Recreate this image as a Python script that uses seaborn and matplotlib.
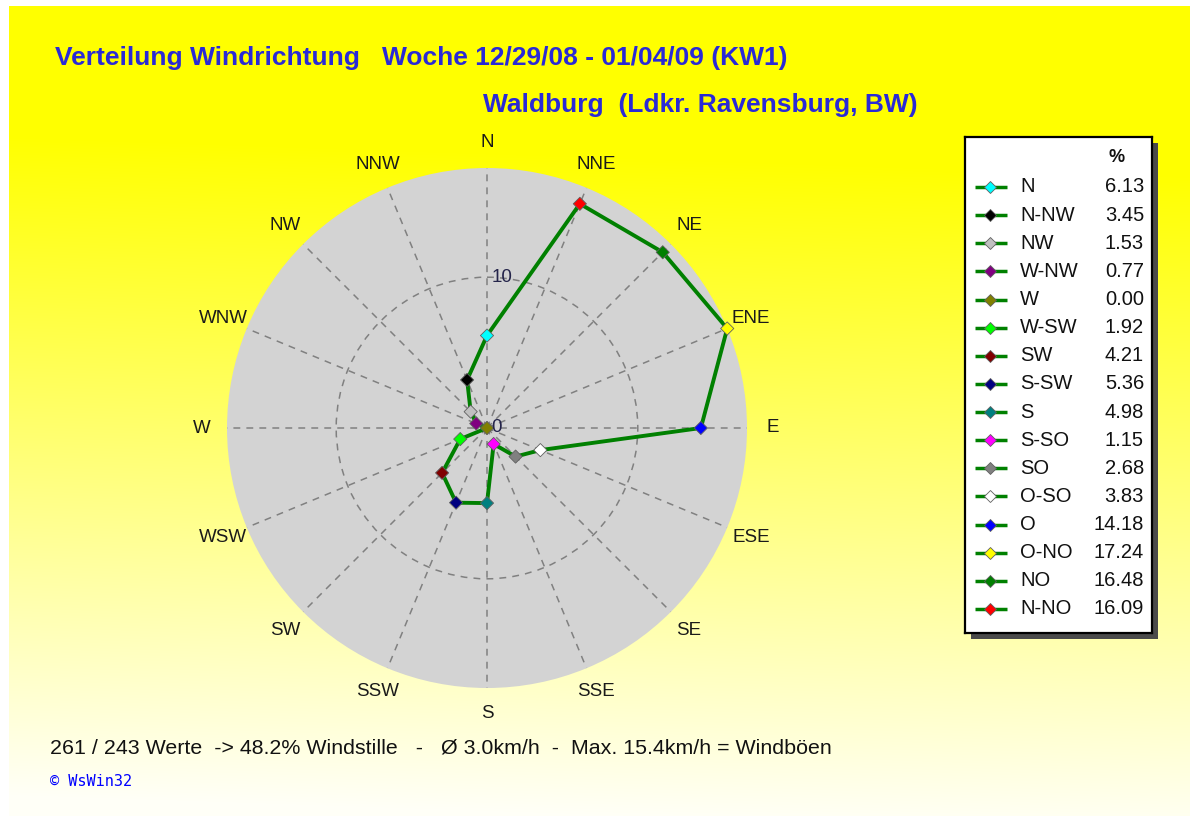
import numpy as np
import pandas as pd
import matplotlib
matplotlib.use("Agg")
import matplotlib.pyplot as plt
import seaborn as sns
from matplotlib.patches import Rectangle

# ---------------- data ----------------
directions = ["N", "N-NW", "NW", "W-NW", "W", "W-SW", "SW", "S-SW",
              "S", "S-SO", "SO", "O-SO", "O", "O-NO", "NO", "N-NO"]
percent = [6.13, 3.45, 1.53, 0.77, 0.00, 1.92, 4.21, 5.36,
           4.98, 1.15, 2.68, 3.83, 14.18, 17.24, 16.48, 16.09]
marker_colors = ["#00ffff", "#000000", "#c0c0c0", "#800080", "#808000", "#00ff00",
                 "#800000", "#000080", "#008080", "#ff00ff", "#808080", "#ffffff",
                 "#0000ff", "#ffff00", "#008000", "#ff0000"]
compass_labels = ["N", "NNE", "NE", "ENE", "E", "ESE", "SE", "SSE",
                  "S", "SSW", "SW", "WSW", "W", "WNW", "NW", "NNW"]
r_ticks = [0, 10]
title_line1 = "Verteilung Windrichtung   Woche 12/29/08 - 01/04/09 (KW1)"
title_line2 = "Waldburg  (Ldkr. Ravensburg, BW)"
footer_text = "261 / 243 Werte  -> 48.2% Windstille   -   \u00d8 3.0km/h  -  Max. 15.4km/h = Windb\u00f6en"
copyright_text = "\u00a9 WsWin32"
legend_header = "%"

LINE_GREEN = "#008000"
TITLE_BLUE = "#2a2ad6"
FONT = ["Liberation Sans", "DejaVu Sans"]

plt.rcParams["font.family"] = FONT

W_PX, H_PX = 1190, 816
fig = plt.figure(figsize=(W_PX / 100, H_PX / 100), dpi=100, facecolor="white")

# ---------------- gradient background ----------------
bg = fig.add_axes([9 / W_PX, 0, 1 - 9 / W_PX, 1 - 6 / H_PX], zorder=-10)
hh, ww = H_PX - 6, W_PX - 9
yy, xx = np.mgrid[0:hh, 0:ww]
ypx = yy + 6
xpx = xx + 9
t = np.clip((ypx - 135 - 40 * xpx / W_PX) / 660.0, 0, 1)
img = np.ones((hh, ww, 3))
img[..., 2] = t * 0.97
bg.imshow(img, aspect="auto", interpolation="bilinear")
bg.set_axis_off()

# ---------------- polar chart ----------------
cx, cy, rad = 487, 428, 260
ax = fig.add_axes([(cx - rad) / W_PX, (H_PX - cy - rad) / H_PX, 2 * rad / W_PX, 2 * rad / H_PX],
                  projection="polar")
ax.set_theta_zero_location("N")
ax.set_theta_direction(-1)
ax.set_facecolor("#d3d3d3")
ax.spines["polar"].set_visible(False)

theta = np.deg2rad((-22.5 * np.arange(len(directions))) % 360)
df = pd.DataFrame({"dir": directions, "theta": theta, "r": percent})

# closed outline: repeat the first point at 2*pi
line_df = pd.concat([df, pd.DataFrame({"dir": [directions[0]], "theta": [2 * np.pi],
                                        "r": [percent[0]]})], ignore_index=True)
sns.lineplot(data=line_df, x="theta", y="r", sort=False, estimator=None,
             color=LINE_GREEN, linewidth=2.8, ax=ax, zorder=3)
sns.scatterplot(data=df, x="theta", y="r", hue="dir",
                palette=dict(zip(directions, marker_colors)),
                marker="D", s=45, edgecolor="#606060", linewidth=0.6,
                legend=False, ax=ax, zorder=4, clip_on=False)

ax.set_ylim(0, max(percent))
ax.set_thetagrids(np.arange(0, 360, 22.5), compass_labels)
ax.set_rticks(r_ticks)
ax.set_yticklabels([])
ax.set_xlabel("")
ax.set_ylabel("")
ax.grid(True, color="#808080", linestyle=(0, (4.5, 4)), linewidth=1.1)
ax.tick_params(axis="x", pad=8, labelsize=13.5, labelcolor="#1a1a1a")
for v in r_ticks:
    ax.annotate(f"{v}", xy=(0, v), xytext=(3, 0), textcoords="offset points",
                ha="left", va="center", fontsize=13.5, color="#24244a", zorder=5)

# ---------------- titles & footer ----------------
fig.text(55 / W_PX, 1 - 58 / H_PX, title_line1, ha="left", va="center",
         fontsize=19, fontweight="bold", color=TITLE_BLUE)
fig.text(483 / W_PX, 1 - 105 / H_PX, title_line2, ha="left", va="center",
         fontsize=19, fontweight="bold", color=TITLE_BLUE)
fig.text(50 / W_PX, 1 - 748 / H_PX, footer_text, ha="left", va="center",
         fontsize=15.4, color="#111111")
fig.text(50 / W_PX, 1 - 782 / H_PX, copyright_text, ha="left", va="center",
         fontsize=11, color="#0000ff", family=["DejaVu Sans Mono", "DejaVu Sans"])

# ---------------- legend box ----------------
lx0, ly0, lw, lh = 965, 137, 187, 496
lbox = [lx0 / W_PX, (H_PX - ly0 - lh) / H_PX, lw / W_PX, lh / H_PX]
shadow = Rectangle((lbox[0] + 6 / W_PX, lbox[1] - 6 / H_PX), lbox[2], lbox[3],
                   transform=fig.transFigure, facecolor="#4a4a4a", edgecolor="none",
                   zorder=-5)
fig.patches.append(shadow)
lax = fig.add_axes(lbox, zorder=2)
lax.set_facecolor("white")
lax.set_xlim(0, lw)
lax.set_ylim(lh, 0)
lax.set_xticks([])
lax.set_yticks([])
for sp in lax.spines.values():
    sp.set_color("black")
    sp.set_linewidth(1.6)

lax.text(152, 20, legend_header, ha="center", va="center", fontsize=13,
         fontweight="bold", color="#111111")
row0, step = 50, (609 - 187) / 15
for i, (name, val, col) in enumerate(zip(directions, percent, marker_colors)):
    y = row0 + step * i
    lax.plot([10, 42], [y, y], color=LINE_GREEN, linewidth=2.5, solid_capstyle="butt")
    lax.plot([25], [y], marker="D", markersize=6.5, markerfacecolor=col,
             markeredgecolor="#606060", markeredgewidth=0.6, linestyle="none")
    lax.text(55, y, name, ha="left", va="center", fontsize=14.5, color="#111111")
    lax.text(179, y, f"{val:.2f}", ha="right", va="center", fontsize=14.5, color="#111111")

fig.savefig("out.png", dpi=100, facecolor=fig.get_facecolor())
